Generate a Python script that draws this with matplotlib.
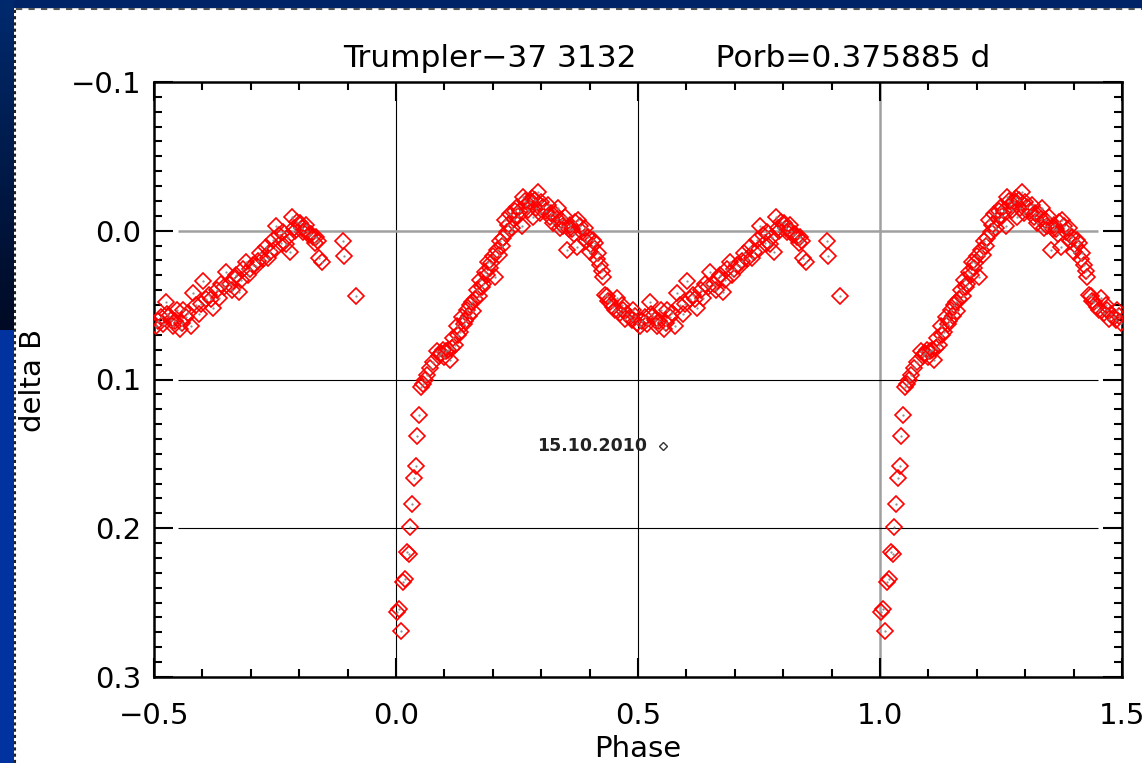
import matplotlib
matplotlib.use("Agg")
from matplotlib import pyplot as plt
from matplotlib.lines import Line2D
import numpy as np

# one orbital cycle of the folded light curve (phase 0..1)
phase = [0.002, 0.006, 0.010, 0.014, 0.019, 0.023, 0.027, 0.029, 0.033, 0.037,
         0.041, 0.043, 0.048, 0.052, 0.056, 0.060, 0.064, 0.070, 0.076, 0.085,
         0.091, 0.097, 0.103, 0.107, 0.112, 0.118, 0.122, 0.126, 0.132, 0.136,
         0.143, 0.147, 0.153, 0.157, 0.159, 0.167, 0.171, 0.174, 0.180, 0.184,
         0.190, 0.194, 0.200, 0.205, 0.209, 0.213, 0.215, 0.221, 0.225, 0.229,
         0.236, 0.240, 0.246, 0.250, 0.256, 0.260, 0.262, 0.269, 0.277, 0.283,
         0.287, 0.293, 0.300, 0.304, 0.310, 0.318, 0.324, 0.329, 0.335, 0.341,
         0.345, 0.353, 0.360, 0.364, 0.370, 0.374, 0.376, 0.384, 0.390, 0.397,
         0.401, 0.407, 0.411, 0.415, 0.421, 0.428, 0.432, 0.436, 0.442, 0.448,
         0.457, 0.463, 0.469, 0.477, 0.483, 0.490, 0.498, 0.504, 0.514, 0.525,
         0.527, 0.535, 0.539, 0.548, 0.554, 0.560, 0.566, 0.576, 0.581, 0.587,
         0.593, 0.601, 0.607, 0.614, 0.622, 0.630, 0.638, 0.649, 0.657, 0.665,
         0.676, 0.684, 0.690, 0.698, 0.705, 0.711, 0.719, 0.725, 0.731, 0.740,
         0.746, 0.752, 0.758, 0.767, 0.773, 0.781, 0.785, 0.789, 0.795, 0.802,
         0.808, 0.814, 0.820, 0.829, 0.835, 0.839, 0.841, 0.847, 0.890, 0.893,
         0.917,
         0.088, 0.094, 0.100, 0.115, 0.129, 0.140, 0.150, 0.163, 0.177, 0.187,
         0.197, 0.218, 0.232, 0.243, 0.253, 0.266, 0.273, 0.280, 0.290, 0.297,
         0.314, 0.321, 0.332, 0.338, 0.349, 0.357, 0.367, 0.380, 0.393, 0.404,
         0.418, 0.425, 0.439, 0.452, 0.466, 0.473, 0.487, 0.494, 0.508, 0.519,
         0.531, 0.543, 0.557, 0.571, 0.597, 0.618, 0.634, 0.644, 0.661, 0.670,
         0.680, 0.694, 0.715, 0.735, 0.749, 0.762, 0.777, 0.792, 0.805, 0.817,
         0.825, 0.832]
delta_b = [0.256, 0.254, 0.269, 0.236, 0.234, 0.216, 0.217, 0.199, 0.184, 0.166,
           0.158, 0.138, 0.124, 0.105, 0.103, 0.100, 0.097, 0.092, 0.088, 0.081,
           0.083, 0.080, 0.081, 0.080, 0.087, 0.072, 0.077, 0.064, 0.068, 0.058,
           0.061, 0.053, 0.050, 0.048, 0.054, 0.040, 0.044, 0.033, 0.036, 0.028,
           0.021, 0.025, 0.017, 0.031, 0.013, 0.016, 0.007, 0.005, -0.007, 0.001,
           -0.011, -0.002, -0.013, -0.016, -0.013, -0.003, -0.023, -0.017, -0.019, -0.009,
           -0.021, -0.026, -0.019, -0.016, -0.013, -0.009, -0.005, -0.011, -0.015, -0.007,
           -0.003, 0.013, -0.004, -0.001, -0.006, 0.011, -0.007, 0.001, -0.002, 0.004,
           0.014, 0.006, 0.008, 0.019, 0.023, 0.031, 0.043, 0.044, 0.048, 0.051,
           0.045, 0.055, 0.053, 0.056, 0.058, 0.053, 0.062, 0.064, 0.058, 0.048,
           0.056, 0.060, 0.064, 0.053, 0.066, 0.053, 0.058, 0.064, 0.042, 0.050,
           0.056, 0.034, 0.046, 0.043, 0.052, 0.040, 0.036, 0.028, 0.036, 0.032,
           0.041, 0.026, 0.021, 0.026, 0.023, 0.024, 0.015, 0.019, 0.011, 0.014,
           0.006, -0.003, 0.003, 0.001, 0.009, 0.014, -0.009, -0.002, -0.006, -0.005,
           0.001, -0.004, 0.003, 0.004, 0.004, 0.007, 0.018, 0.021, 0.007, 0.017,
           0.044,
           0.084, 0.082, 0.085, 0.079, 0.070, 0.063, 0.057, 0.046, 0.038, 0.030,
           0.022, 0.010, -0.004, -0.008, -0.010, -0.020, -0.014, -0.022, -0.015, -0.012,
           -0.017, -0.012, -0.008, -0.002, -0.009, -0.001, 0.002, -0.003, 0.007, 0.010,
           0.015, 0.027, 0.047, 0.053, 0.050, 0.059, 0.060, 0.057, 0.061, 0.063,
           0.057, 0.061, 0.062, 0.055, 0.049, 0.046, 0.045, 0.038, 0.040, 0.030,
           0.033, 0.030, 0.020, 0.018, 0.012, 0.008, 0.004, 0.000, -0.002, 0.000,
           0.002, 0.008]

xticks = [-0.5, 0.0, 0.5, 1.0, 1.5]
xtick_labels = ["\u22120.5", "0.0", "0.5", "1.0", "1.5"]
yticks = [-0.1, 0.0, 0.1, 0.2, 0.3]
ytick_labels = ["\u22120.1", "0.0", "0.1", "0.2", "0.3"]

W, H = 1142, 763
fig = plt.figure(figsize=(W / 100, H / 100), dpi=100)
plt.rcParams["font.family"] = "DejaVu Sans"

# slide decoration round the screenshot
strip = fig.add_axes([0, 0, 14 / W, 1])
grad = np.zeros((H, 1, 3))
top_col = np.array([0x00, 0x2a, 0x6e]) / 255
dark_col = np.array([0x00, 0x0a, 0x24]) / 255
blue_col = np.array([0x00, 0x33, 0xa0]) / 255
for i in range(H):
    if i < 330:
        t = i / 330
        grad[i, 0] = top_col * (1 - t) + dark_col * t
    else:
        grad[i, 0] = blue_col
strip.imshow(grad, aspect="auto", extent=[0, 1, 1, 0])
strip.set_axis_off()
fig.patches.append(plt.Rectangle((14 / W, 1 - 7 / H), 1, 7 / H, transform=fig.transFigure,
                                 color="#002266", zorder=0))
fig.add_artist(Line2D([16 / W, 1], [1 - 8.5 / H] * 2, transform=fig.transFigure,
                      color="#555555", lw=1.5, ls=(0, (3, 3))))
fig.add_artist(Line2D([15 / W, 15 / W], [0, 1 - 8 / H], transform=fig.transFigure,
                      color="#222222", lw=1.5, ls=(0, (1.5, 1.5))))

ax = fig.add_axes([154 / W, 1 - 677 / H, (1122 - 154) / W, (677 - 82) / H])
ax.set_xlim(-0.5, 1.5)
ax.set_ylim(0.3, -0.1)

# reference lines
ax.axvline(0.0, color="black", lw=0.8, zorder=1)
ax.axvline(0.5, color="black", lw=0.8, zorder=1)
ax.axvline(1.0, color="#a0a0a0", lw=1.8, zorder=1)
ax.hlines(0.0, -0.45, 1.45, color="#a0a0a0", lw=1.8, zorder=1)
ax.hlines([0.1, 0.2], -0.45, 1.45, color="black", lw=0.8, zorder=1)

ph = np.array(phase)
db = np.array(delta_b)
for shift in (-1, 0, 1):
    x = ph + shift
    m = (x >= -0.5) & (x <= 1.5)
    ax.plot(x[m], db[m], "D", mfc="none", mec="red", ms=8, mew=1.2, zorder=3)
    ax.plot(x[m], db[m], ".", color="#888888", ms=1.2, zorder=4)

ax.text(0.519, 0.145, "15.10.2010", ha="right", va="center", fontsize=12.5,
        fontweight="bold", color="#222222")
ax.plot([0.551], [0.145], "D", mfc="none", mec="#333333", ms=4, mew=1.0)

ax.set_xticks(xticks)
ax.set_xticklabels(xtick_labels)
ax.set_yticks(yticks)
ax.set_yticklabels(ytick_labels)
ax.set_xticks(np.arange(-0.5, 1.51, 0.1), minor=True)
ax.set_yticks(np.arange(-0.1, 0.301, 0.01), minor=True)
ax.tick_params(which="both", direction="in", top=True, right=True, width=1.5)
ax.tick_params(which="major", length=14, labelsize=21)
ax.tick_params(which="minor", length=6)
ax.tick_params(axis="x", which="major", pad=18)
ax.tick_params(axis="y", which="major", pad=9)
for s in ax.spines.values():
    s.set_linewidth(1.8)

fig.text(667 / W, 1 - 67 / H, "Trumpler\u221237 3132        Porb=0.375885 d",
         ha="center", va="baseline", fontsize=22.5)
fig.text(638 / W, 1 - 757 / H, "Phase", ha="center", va="baseline", fontsize=21)
fig.text(33 / W, 1 - 380 / H, "delta B", ha="center", va="center", rotation=90, fontsize=21)

plt.savefig("out.png", dpi=100)
